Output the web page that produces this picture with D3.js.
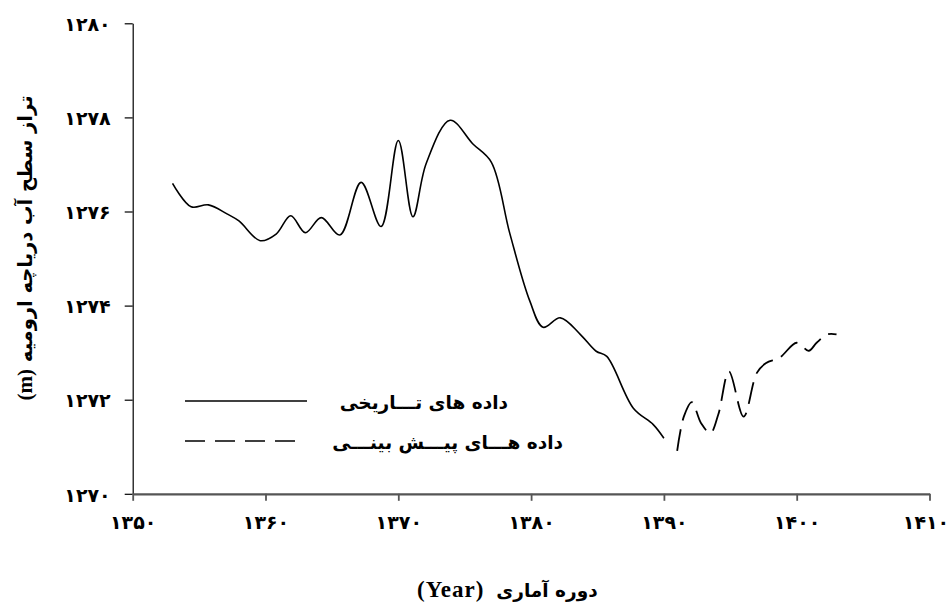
<!DOCTYPE html>
<html>
<head>
<meta charset="utf-8">
<script src="https://cdn.jsdelivr.net/npm/d3@7"></script>
<style>
  body { margin: 0; background: #fff; }
  svg { display: block; }
</style>
</head>
<body>
<svg></svg>
<script>
// historical water level (solid) and forecast (dashed)
const histYears = [1353.0, 1354.4, 1355.7, 1357.1, 1358.0, 1359.6, 1360.8, 1361.9, 1363.0, 1364.2,
                   1365.6, 1367.2, 1368.7, 1370.0, 1371.1, 1372.1, 1373.9, 1375.6, 1377.0, 1378.4,
                   1379.9, 1380.9, 1382.2, 1383.7, 1384.9, 1385.7, 1387.7, 1389.2, 1390.0];
const histLevels = [1276.60, 1276.10, 1276.14, 1275.95, 1275.80, 1275.38, 1275.52, 1275.91, 1275.55, 1275.87,
                    1275.50, 1276.62, 1275.68, 1277.51, 1275.89, 1277.02, 1277.94, 1277.44, 1277.05, 1275.53,
                    1274.10, 1273.54, 1273.74, 1273.39, 1273.03, 1272.92, 1271.82, 1271.47, 1271.18];

const predYears = [1391.0, 1391.5, 1392.1, 1392.8, 1393.5, 1394.1, 1394.9, 1396.0, 1397.0, 1397.7,
                   1398.7, 1400.0, 1400.9, 1401.5, 1402.3, 1403.0];
const predLevels = [1270.91, 1271.64, 1271.95, 1271.50, 1271.29, 1271.69, 1272.60, 1271.64, 1272.57, 1272.78,
                    1272.89, 1273.21, 1273.04, 1273.21, 1273.39, 1273.39];

const xTicks = [1350, 1360, 1370, 1380, 1390, 1400, 1410];
const yTicks = [1270, 1272, 1274, 1276, 1278, 1280];

const legendLabels = ['داده های تـــاریخی', 'داده هـــای پیـــش بینـــی'];
const yTitle = 'تراز سطح آب دریاچه ارومیه ';
const xTitle = 'دوره آماری';

const width = 950;
const height = 603;
const faFont = '"DejaVu Sans", sans-serif';
const serifFont = '"Liberation Serif", serif';

const toFa = (n) => String(n).replace(/\d/g, (d) => '۰۱۲۳۴۵۶۷۸۹'[d]);

const xScale = d3.scaleLinear()
                 .domain([1350, 1410])
                 .range([132.7, 929.5]);

const yScale = d3.scaleLinear()
                 .domain([1270, 1280])
                 .range([493.8, 23.3]);

const svg = d3.select('svg')
              .attr('width', width)
              .attr('height', height);

const line = d3.line()
               .x((d) => xScale(d[0]))
               .y((d) => yScale(d[1]))
               .curve(d3.curveCatmullRom.alpha(0.5));

const hist = histYears.map((y, i) => [y, histLevels[i]]);
const pred = predYears.map((y, i) => [y, predLevels[i]]);

// y axis
const yAxis = d3.axisLeft(yScale)
                .tickValues(yTicks)
                .tickSize(8)
                .tickPadding(14)
                .tickSizeOuter(0)
                .tickFormat(toFa);

const gy = svg.append('g')
  .attr('transform', `translate(${xScale(1350)}, 0)`)
  .call(yAxis);
gy.select('.domain').attr('stroke', '#000').attr('stroke-width', 1.2);
gy.selectAll('.tick line').attr('stroke', '#000').attr('stroke-width', 1.2);
gy.selectAll('.tick text')
  .attr('fill', '#000')
  .attr('dy', '0.38em')
  .style('font-family', faFont)
  .style('font-weight', 'bold')
  .style('font-size', '19px')
  .style('letter-spacing', '1px');

// x axis
const xAxis = d3.axisBottom(xScale)
                .tickValues(xTicks)
                .tickSize(7)
                .tickPadding(15)
                .tickSizeOuter(0)
                .tickFormat(toFa);

const gx = svg.append('g')
  .attr('transform', `translate(0, ${yScale(1270)})`)
  .call(xAxis);
gx.select('.domain').attr('stroke', '#555').attr('stroke-width', 2.2);
gx.selectAll('.tick line').attr('stroke', '#555').attr('stroke-width', 1.8);
gx.selectAll('.tick text')
  .attr('fill', '#000')
  .attr('dx', (d) => d === 1410 ? -4 : 0)
  .style('font-family', faFont)
  .style('font-weight', 'bold')
  .style('font-size', '19px')
  .style('letter-spacing', '0.5px');

// lines
svg.append('path')
  .datum(hist)
  .attr('d', line)
  .attr('fill', 'none')
  .attr('stroke', '#000')
  .attr('stroke-width', 1.6);

svg.append('path')
  .datum(pred)
  .attr('d', line)
  .attr('fill', 'none')
  .attr('stroke', '#000')
  .attr('stroke-width', 1.8)
  .attr('stroke-dasharray', '22,9');

// legend
const legend = svg.append('g');
legend.append('line')
  .attr('x1', 185).attr('x2', 307)
  .attr('y1', 401).attr('y2', 401)
  .attr('stroke', '#000').attr('stroke-width', 1.3);
legend.append('line')
  .attr('x1', 185).attr('x2', 295)
  .attr('y1', 441).attr('y2', 441)
  .attr('stroke', '#000').attr('stroke-width', 1.3)
  .attr('stroke-dasharray', '20,10');

legend.selectAll('text')
  .data(legendLabels)
  .enter()
  .append('text')
    .text((d) => d)
    .attr('x', (d, i) => i === 0 ? 508 : 563)
    .attr('y', (d, i) => i === 0 ? 409 : 449)
    .attr('direction', 'rtl')
    .style('text-anchor', 'start')
    .style('font-family', faFont)
    .style('font-weight', 'bold')
    .style('font-size', '18.5px');

// axis titles
const yt = svg.append('text')
  .attr('transform', 'translate(32, 248) rotate(-90)')
  .attr('direction', 'rtl')
  .style('text-anchor', 'middle')
  .style('font-weight', 'bold')
  .style('font-size', '19.5px')
  .style('font-family', faFont);
yt.append('tspan').text(yTitle);
yt.append('tspan').text('(m)').style('font-family', serifFont).style('font-size', '21px');

const xt = svg.append('text')
  .attr('x', 417)
  .attr('y', 597)
  .style('text-anchor', 'start')
  .style('font-weight', 'bold');
xt.append('tspan').text('(Year)')
  .style('font-family', serifFont)
  .style('font-size', '23px')
  .style('letter-spacing', '1px');
xt.append('tspan').text('\u00a0\u00a0\u00a0').style('font-size', '16px');
xt.append('tspan').text(xTitle)
  .style('font-family', faFont)
  .style('font-size', '18.5px');
</script>
</body>
</html>
